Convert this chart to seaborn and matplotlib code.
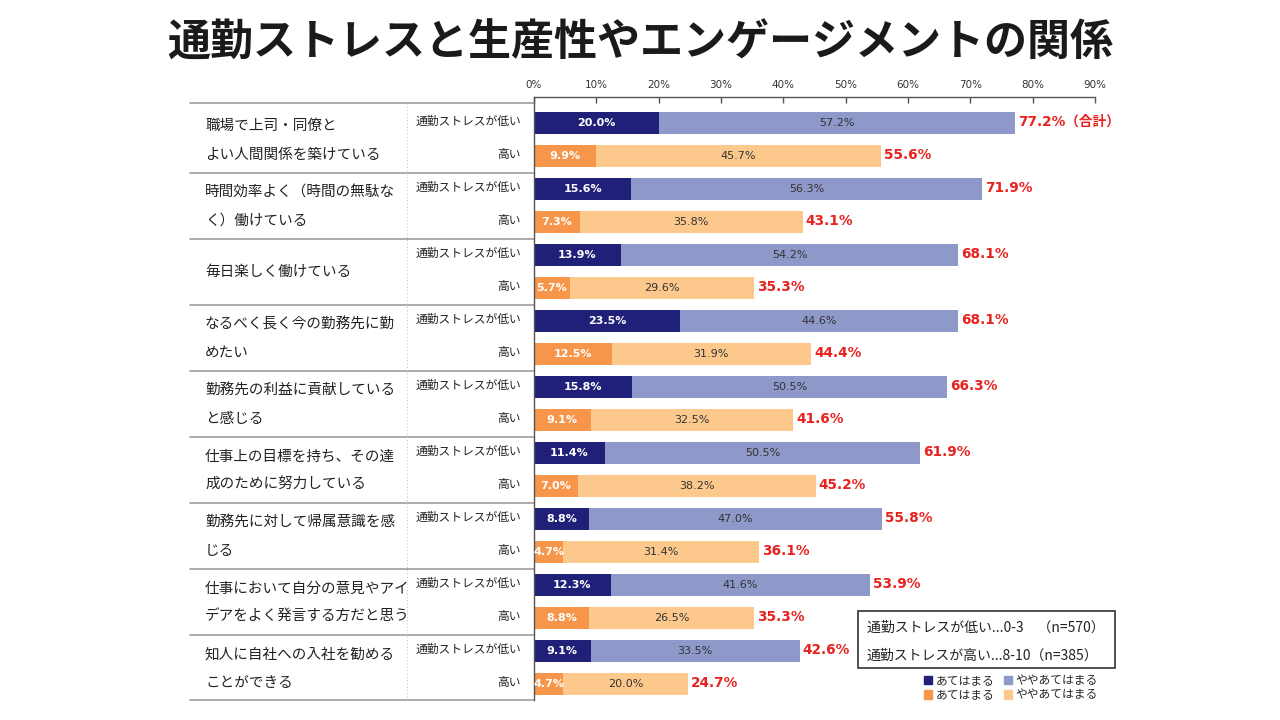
import matplotlib
matplotlib.use("Agg")
import matplotlib.pyplot as plt
import seaborn as sns
import pandas as pd
from matplotlib.transforms import blended_transform_factory
from matplotlib.patches import Patch, Rectangle

sns.set_theme(style="white")
plt.rcParams['font.family'] = ['Noto Sans CJK JP', 'DejaVu Sans']
NUMFONT = ['DejaVu Sans', 'Noto Sans CJK JP']

title = "通勤ストレスと生産性やエンゲージメントの関係"
items = [
    ["職場で上司・同僚と", "よい人間関係を築けている"],
    ["時間効率よく（時間の無駄な", "く）働けている"],
    ["毎日楽しく働けている"],
    ["なるべく長く今の勤務先に勤", "めたい"],
    ["勤務先の利益に貢献している", "と感じる"],
    ["仕事上の目標を持ち、その達", "成のために努力している"],
    ["勤務先に対して帰属意識を感", "じる"],
    ["仕事において自分の意見やアイ", "デアをよく発言する方だと思う"],
    ["知人に自社への入社を勧める", "ことができる"],
]
group_labels = ["通勤ストレスが低い", "高い"]
low_strong = [20.0, 15.6, 13.9, 23.5, 15.8, 11.4, 8.8, 12.3, 9.1]
low_some = [57.2, 56.3, 54.2, 44.6, 50.5, 50.5, 47.0, 41.6, 33.5]
low_total = [77.2, 71.9, 68.1, 68.1, 66.3, 61.9, 55.8, 53.9, 42.6]
high_strong = [9.9, 7.3, 5.7, 12.5, 9.1, 7.0, 4.7, 8.8, 4.7]
high_some = [45.7, 35.8, 29.6, 31.9, 32.5, 38.2, 31.4, 26.5, 20.0]
high_total = [55.6, 43.1, 35.3, 44.4, 41.6, 45.2, 36.1, 35.3, 24.7]
x_ticks = [0, 10, 20, 30, 40, 50, 60, 70, 80, 90]
note_lines = ["通勤ストレスが低い...0-3　（n=570）", "通勤ストレスが高い...8-10（n=385）"]
legend_labels = ["あてはまる", "ややあてはまる"]

NAVY = "#202078"
PERI = "#8E98C9"
ORANGE = "#F7964A"
PEACH = "#FCC88C"
RED = "#E8231F"

rows = []
for i in range(len(items)):
    rows.append(dict(bar=f"{i}L", group="L", strong=low_strong[i], some=low_some[i], total=low_total[i]))
    rows.append(dict(bar=f"{i}H", group="H", strong=high_strong[i], some=high_some[i], total=high_total[i]))
df = pd.DataFrame(rows)
order = list(df["bar"])

fig = plt.figure(figsize=(12.8, 7.2), dpi=100)
ax = fig.add_axes([534 / 1280, 1 - 700 / 720, (1095 - 534) / 1280, (700 - 97) / 720])

sns.barplot(data=df, y="bar", x="total", hue="group", order=order, dodge=False,
            palette={"L": PERI, "H": PEACH}, orient="h", width=0.68, saturation=1,
            errorbar=None, legend=False, linewidth=0, ax=ax)
sns.barplot(data=df, y="bar", x="strong", hue="group", order=order, dodge=False,
            palette={"L": NAVY, "H": ORANGE}, orient="h", width=0.68, saturation=1,
            errorbar=None, legend=False, linewidth=0, ax=ax)

ax.set_xlim(0, 90)
ax.set_ylim(17.48, -0.79)
ax.set_xlabel("")
ax.set_ylabel("")
ax.set_yticks([])
ax.xaxis.tick_top()
ax.set_xticks(x_ticks)
ax.set_xticklabels([f"{v}%" for v in x_ticks], family=NUMFONT)
ax.tick_params(axis="x", direction="in", length=4, width=1, color="#555555",
               labelsize=7.5, labelcolor="#333333", pad=5, top=True, bottom=False)
for s in ["bottom", "right"]:
    ax.spines[s].set_visible(False)
for s in ["top", "left"]:
    ax.spines[s].set_color("#555555")
    ax.spines[s].set_linewidth(1.0)

# bar labels
for j, r in df.iterrows():
    ax.text(r["strong"] / 2, j, f"{r['strong']:.1f}%", ha="center", va="center",
            color="white", fontsize=8, fontweight="bold", family=NUMFONT)
    ax.text(r["strong"] + r["some"] / 2, j, f"{r['some']:.1f}%", ha="center", va="center",
            color="#333333", fontsize=8, family=NUMFONT)
    lab = f"{r['total']:.1f}%" + ("（合計）" if j == 0 else "")
    ax.text(r["total"] + 0.5, j - 0.04, lab, ha="left", va="center",
            color=RED, fontsize=9.8, fontweight="bold", family=NUMFONT)

# left table
trans = blended_transform_factory(fig.transFigure, ax.transData)
seps = [-0.6] + [2 * k - 0.5 for k in range(1, len(items))] + [17.48]
for y in seps:
    ax.plot([190 / 1280, 534 / 1280], [y, y], transform=trans, color="#A6A6A6",
            lw=1.3, clip_on=False)
ax.plot([407 / 1280, 407 / 1280], [-0.6, 17.48], transform=trans, color="#C8C8C8",
        lw=0.8, ls=(0, (1, 2)), clip_on=False)

for i, lines in enumerate(items):
    mid = 2 * i + 0.5
    if len(lines) == 1:
        ax.text(205 / 1280, mid, lines[0], transform=trans, ha="left", va="center",
                fontsize=10.5, color="#222222")
    else:
        ax.text(205 / 1280, mid - 0.4, lines[0], transform=trans, ha="left", va="center",
                fontsize=10.5, color="#222222")
        ax.text(205 / 1280, mid + 0.46, lines[1], transform=trans, ha="left", va="center",
                fontsize=10.5, color="#222222")
    for g in range(2):
        ax.text(521 / 1280, 2 * i + g - 0.06, group_labels[g], transform=trans,
                ha="right", va="center", fontsize=8.5, color="#222222")

# title
fig.text(0.5, 1 - 43 / 720, title, ha="center", va="center", fontsize=31,
         fontweight="bold", color="#1a1a1a")

# note box
fig.add_artist(Rectangle((858 / 1280, 1 - 668 / 720), (1115 - 858) / 1280, 57 / 720,
                         transform=fig.transFigure, facecolor="white",
                         edgecolor="#333333", lw=1.2))
fig.text(867 / 1280, 1 - 628 / 720, note_lines[0], ha="left", va="center",
         fontsize=10, color="#222222")
fig.text(867 / 1280, 1 - 656 / 720, note_lines[1], ha="left", va="center",
         fontsize=10, color="#222222")

handles = [Patch(color=NAVY, label=legend_labels[0]), Patch(color=ORANGE, label=legend_labels[0]),
           Patch(color=PERI, label=legend_labels[1]), Patch(color=PEACH, label=legend_labels[1])]
fig.legend(handles=handles, ncol=2, loc="center", bbox_to_anchor=(1011 / 1280, 1 - 688 / 720),
           frameon=False, fontsize=8.5, handlelength=0.7, handleheight=0.7,
           handletextpad=0.3, columnspacing=0.8, labelspacing=0.1, borderpad=0)

fig.savefig("out.png", dpi=100)
